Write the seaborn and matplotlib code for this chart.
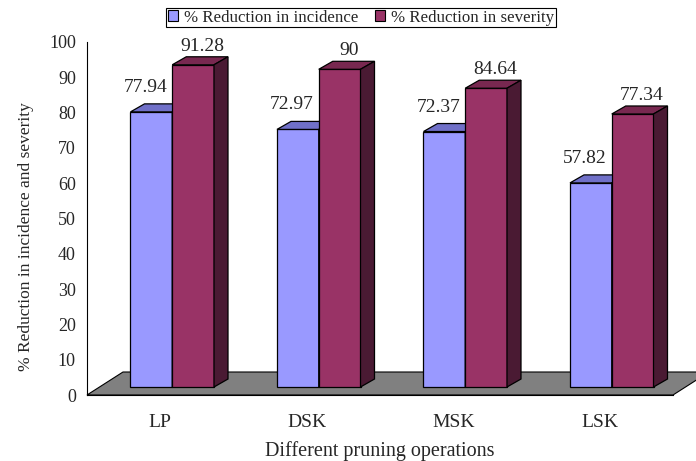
import matplotlib
matplotlib.use("Agg")
import matplotlib.pyplot as plt
import pandas as pd
import seaborn as sns
from matplotlib.patches import Polygon, Patch
from matplotlib.transforms import Affine2D

# Reduction (%) in disease incidence and severity per pruning operation
operations = ["LP", "DSK", "MSK", "LSK"]
incidence = [77.94, 72.97, 72.37, 57.82]
severity = [91.28, 90.00, 84.64, 77.34]
series_names = ["% Reduction in incidence", "% Reduction in severity"]
y_ticks = [0, 10, 20, 30, 40, 50, 60, 70, 80, 90, 100]

df = pd.DataFrame({
    "operation": operations * 2,
    "series": [series_names[0]] * len(operations) + [series_names[1]] * len(operations),
    "value": incidence + severity,
})

sns.set_style("white")
plt.rcParams["font.family"] = ["Liberation Serif", "DejaVu Serif"]

W, H = 696, 461
fig = plt.figure(figsize=(W / 100, H / 100), dpi=100)
ax_l, ax_r, ax_b, ax_t = 87, 673, 395, 42
ax = fig.add_axes([ax_l / W, 1 - ax_b / H, (ax_r - ax_l) / W, (ax_b - ax_t) / H])

front = ["#9999FF", "#993366"]
top_c = ["#7070C8", "#782850"]
side_c = ["#5A5AA0", "#4A1A33"]

sns.barplot(data=df, x="operation", y="value", hue="series",
            order=operations, hue_order=series_names, palette=front,
            width=0.57, edgecolor="black", linewidth=0.9, saturation=1,
            legend=False, ax=ax)

ax.set_xlim(-0.5, len(operations) - 0.5)
ax.set_ylim(0, 100)

# data units per screen pixel
ux = len(operations) / (ax_r - ax_l)
uy = 100 / (ax_b - ax_t)

# pseudo-3D: bars sit slightly back on the floor
shift_px = (12, 8)
shift = ax.transData + Affine2D().translate(*shift_px)
dx, dy = 14 * ux, 8 * uy

# grey floor
fdx, fdy = 36 * ux, 23 * uy
floor = Polygon([(-0.5, 0), (len(operations) - 0.5, 0),
                 (len(operations) - 0.5 + fdx, fdy), (-0.5 + fdx, fdy)],
                closed=True, facecolor="#808080", edgecolor="black",
                linewidth=0.8, zorder=1, clip_on=False)
ax.add_patch(floor)

label_off = [(-6, 20), (9, 14)]
for k, cont in enumerate(ax.containers):
    z = 3 + k
    for p in cont.patches:
        p.set_transform(shift)
        p.set_zorder(z)
        p.set_clip_on(False)
        x0, w, h = p.get_x(), p.get_width(), p.get_height()
        top = Polygon([(x0, h), (x0 + w, h), (x0 + w + dx, h + dy), (x0 + dx, h + dy)],
                      closed=True, facecolor=top_c[k], edgecolor="black",
                      linewidth=0.9, transform=shift, zorder=z, clip_on=False)
        side = Polygon([(x0 + w, 0), (x0 + w + dx, dy), (x0 + w + dx, h + dy), (x0 + w, h)],
                       closed=True, facecolor=side_c[k], edgecolor="black",
                       linewidth=0.9, transform=shift, zorder=z, clip_on=False)
        ax.add_patch(top)
        ax.add_patch(side)
        ox, oy = label_off[k]
        ax.text(x0 + w / 2, h, f"{h:g}", ha="center", va="baseline",
                fontsize=14,
                transform=ax.transData + Affine2D().translate(shift_px[0] + ox, shift_px[1] + oy),
                zorder=6)

# axes styling
for s in ["top", "right"]:
    ax.spines[s].set_visible(False)
for s in ["left", "bottom"]:
    ax.spines[s].set_color("black")
    ax.spines[s].set_linewidth(0.8)

ax.set_yticks(y_ticks)
ax.set_yticklabels([str(t) for t in y_ticks], fontsize=13)
ax.tick_params(axis="y", direction="out", length=5, width=0.8, color="black", pad=3)

ax.set_xticks([i - 0.5 for i in range(len(operations) + 1)])
ax.set_xticklabels([])
ax.set_xticks(range(len(operations)), minor=True)
ax.set_xticklabels(operations, minor=True, fontsize=14)
ax.tick_params(axis="x", which="major", direction="out", length=6, width=0.8, color="black")
ax.tick_params(axis="x", which="minor", length=0, pad=14)

ax.set_xlabel("Different pruning operations", fontsize=14.5, labelpad=7)
ax.set_ylabel("% Reduction in incidence and severity", fontsize=12.5)
ax.yaxis.set_label_coords(-0.09, 0.45)

handles = [Patch(facecolor=front[i], edgecolor="black", linewidth=0.8) for i in range(2)]
leg = fig.legend(handles=handles, labels=series_names, loc="upper center",
                 bbox_to_anchor=(0.519, 0.983), ncol=2, frameon=True, fancybox=False,
                 edgecolor="black", framealpha=1, fontsize=12.2, handlelength=0.6,
                 handleheight=0.6, handletextpad=0.35, columnspacing=1.0,
                 borderpad=0.1, borderaxespad=0)
leg.get_frame().set_linewidth(0.8)

fig.savefig("out.png", dpi=100)
